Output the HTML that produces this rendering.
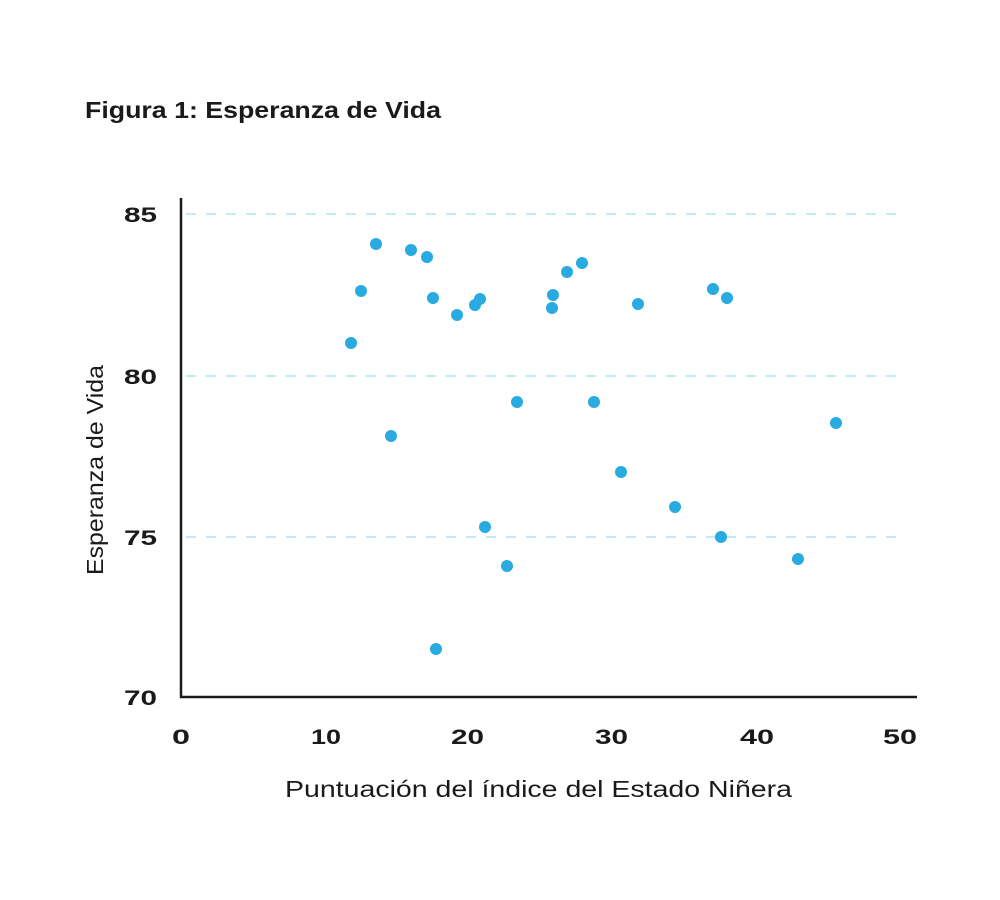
<!DOCTYPE html>
<html><head><meta charset="utf-8"><style>
html,body{margin:0;padding:0;background:#fff}
svg{display:block}
text{font-family:"Liberation Sans",sans-serif;fill:#1a1a1a}
</style></head><body>
<svg width="1000" height="900" viewBox="0 0 1000 900">
<text x="85" y="118" font-size="23" font-weight="bold" textLength="356" lengthAdjust="spacingAndGlyphs">Figura 1: Esperanza de Vida</text>
<g stroke="#c2ebf7" stroke-width="2" stroke-dasharray="10,10">
<line x1="186" y1="214" x2="896" y2="214"/>
<line x1="186" y1="376" x2="896" y2="376"/>
<line x1="186" y1="537" x2="896" y2="537"/>
</g>
<g stroke="#1a1a1a" stroke-width="2.5" fill="none">
<line x1="181" y1="198" x2="181" y2="698"/>
<line x1="180" y1="697" x2="917" y2="697"/>
</g>
<g font-size="21" font-weight="bold">
<text x="124" y="222" textLength="33" lengthAdjust="spacingAndGlyphs">85</text>
<text x="124" y="384" textLength="33" lengthAdjust="spacingAndGlyphs">80</text>
<text x="124" y="545" textLength="33" lengthAdjust="spacingAndGlyphs">75</text>
<text x="124" y="705" textLength="33" lengthAdjust="spacingAndGlyphs">70</text>
</g>
<g font-size="21" font-weight="bold">
<text x="172" y="744" textLength="18" lengthAdjust="spacingAndGlyphs">0</text>
<text x="311" y="744" textLength="30" lengthAdjust="spacingAndGlyphs">10</text>
<text x="451" y="744" textLength="33" lengthAdjust="spacingAndGlyphs">20</text>
<text x="595" y="744" textLength="33" lengthAdjust="spacingAndGlyphs">30</text>
<text x="740" y="744" textLength="34" lengthAdjust="spacingAndGlyphs">40</text>
<text x="883" y="744" textLength="34" lengthAdjust="spacingAndGlyphs">50</text>
</g>
<text x="285" y="797" font-size="23" textLength="507" lengthAdjust="spacingAndGlyphs">Puntuación del índice del Estado Niñera</text>
<text transform="translate(103,575) rotate(-90)" font-size="23" textLength="210" lengthAdjust="spacingAndGlyphs">Esperanza de Vida</text>
<g fill="#29aae1">
<circle cx="351" cy="343" r="6"/><circle cx="361" cy="291" r="6"/><circle cx="376" cy="244" r="6"/>
<circle cx="391" cy="436" r="6"/><circle cx="411" cy="250" r="6"/><circle cx="427" cy="257" r="6"/>
<circle cx="433" cy="298" r="6"/><circle cx="436" cy="649" r="6"/><circle cx="457" cy="315" r="6"/>
<circle cx="475" cy="305" r="6"/><circle cx="480" cy="299" r="6"/><circle cx="485" cy="527" r="6"/>
<circle cx="507" cy="566" r="6"/><circle cx="517" cy="402" r="6"/><circle cx="552" cy="308" r="6"/>
<circle cx="553" cy="295" r="6"/><circle cx="567" cy="272" r="6"/><circle cx="582" cy="263" r="6"/>
<circle cx="594" cy="402" r="6"/><circle cx="621" cy="472" r="6"/><circle cx="638" cy="304" r="6"/>
<circle cx="675" cy="507" r="6"/><circle cx="713" cy="289" r="6"/><circle cx="721" cy="537" r="6"/>
<circle cx="727" cy="298" r="6"/><circle cx="798" cy="559" r="6"/><circle cx="836" cy="423" r="6"/>
</g>
</svg>
</body></html>
